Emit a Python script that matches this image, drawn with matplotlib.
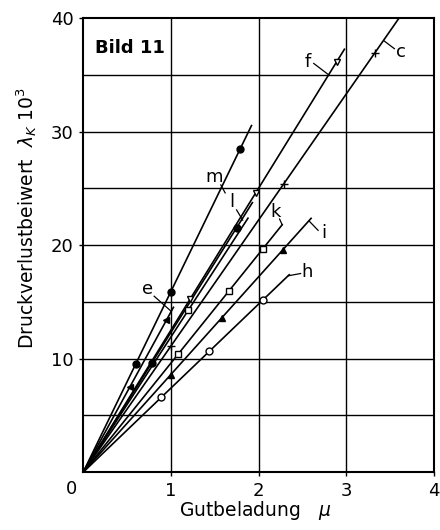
import numpy as np
import matplotlib
matplotlib.use("Agg")
import matplotlib.pyplot as plt

# -----------------------------
# DATA
# -----------------------------
# each line runs from the origin: slope (lambda_K*1e3 per unit mu), end of line in mu
names = ["m", "e", "f", "l", "l2", "c", "k", "i", "h"]
slopes = [15.9, 14.1, 12.5, 12.3, 11.9, 11.1, 9.6, 8.6, 7.4]
x_end = [1.92, 1.03, 2.98, 1.93, 1.88, 3.64, 2.27, 2.60, 2.35]

# measured points on each line (mu values) and marker style
pts_x = [
    [0.60, 1.00, 1.79],
    [0.53, 0.95],
    [1.22, 1.97, 2.89],
    [0.78, 1.75],
    [1.20],
    [1.00, 2.29, 3.33],
    [1.08, 1.66, 2.05],
    [1.00, 1.58, 2.28],
    [0.89, 1.44, 2.05],
]
markers = ["o", "<", "v", "o", "s", "+", "s", "^", "o"]
filled = [True, True, False, True, False, True, False, True, False]

# label text, label position, leader line (start -> end on line)
lab_text = ["m", "e", "f", "l", "k", "i", "h", "c"]
lab_pos = [(1.49, 26.0), (0.74, 16.1), (2.56, 36.1), (1.70, 23.8),
           (2.20, 22.9), (2.74, 21.1), (2.55, 17.6), (3.62, 37.0)]
lead_a = [(1.57, 25.3), (0.81, 15.5), (2.63, 36.0), (1.75, 23.1),
          (2.24, 22.3), (2.68, 21.3), (2.48, 17.5), (3.55, 37.3)]
lead_b = [(1.62, 24.6), (1.00, 14.2), (2.80, 35.0), (1.82, 22.2),
          (2.27, 21.8), (2.58, 22.1), (2.34, 17.3), (3.43, 38.0)]

# -----------------------------
# PLOT
# -----------------------------
fig = plt.figure(figsize=(4.4, 5.3), dpi=100)
ax = fig.add_axes([0.189, 0.109, 0.797, 0.857])

ax.set_xlim(0, 4)
ax.set_ylim(0, 40)

# grid: every 1 in mu, every 5 in lambda
for gx in [1, 2, 3]:
    ax.axvline(gx, color="black", lw=1.0, zorder=1)
for gy in [5, 10, 15, 20, 25, 30, 35]:
    ax.axhline(gy, color="black", lw=1.0, zorder=1)

for name, s, xe, px, mk, fl in zip(names, slopes, x_end, pts_x, markers, filled):
    xx = np.array([0.0, xe])
    ax.plot(xx, s * xx, color="black", lw=1.2, zorder=2)
    px = np.array(px)
    ax.plot(px, s * px, linestyle="none", marker=mk, ms=5 if mk != "+" else 6,
            mfc="black" if fl else "white", mec="black", mew=1.0, zorder=3)

for t, p, a, b in zip(lab_text, lab_pos, lead_a, lead_b):
    ax.text(p[0], p[1], t, fontsize=13, ha="center", va="center", zorder=4)
    ax.plot([a[0], b[0]], [a[1], b[1]], color="black", lw=0.9, zorder=4)

ax.text(0.14, 37.4, "Bild 11", fontsize=13, fontweight="bold", va="center", ha="left")

for sp in ax.spines.values():
    sp.set_linewidth(1.5)

ax.set_xticks([1, 2, 3, 4])
ax.set_yticks([10, 20, 30, 40])
ax.tick_params(direction="out", length=3, width=1, labelsize=13, pad=4)
ax.text(-0.13, -1.5, "0", fontsize=13, ha="center", va="center")

ax.set_xlabel("Gutbeladung   $\\mu$", fontsize=13.5)
ax.set_ylabel("Druckverlustbeiwert  $\\lambda_K$ $10^3$", fontsize=13.5)
ax.xaxis.set_label_coords(0.49, -0.06)
ax.yaxis.set_label_coords(-0.125, 0.56)

plt.savefig("out.png", dpi=100)
